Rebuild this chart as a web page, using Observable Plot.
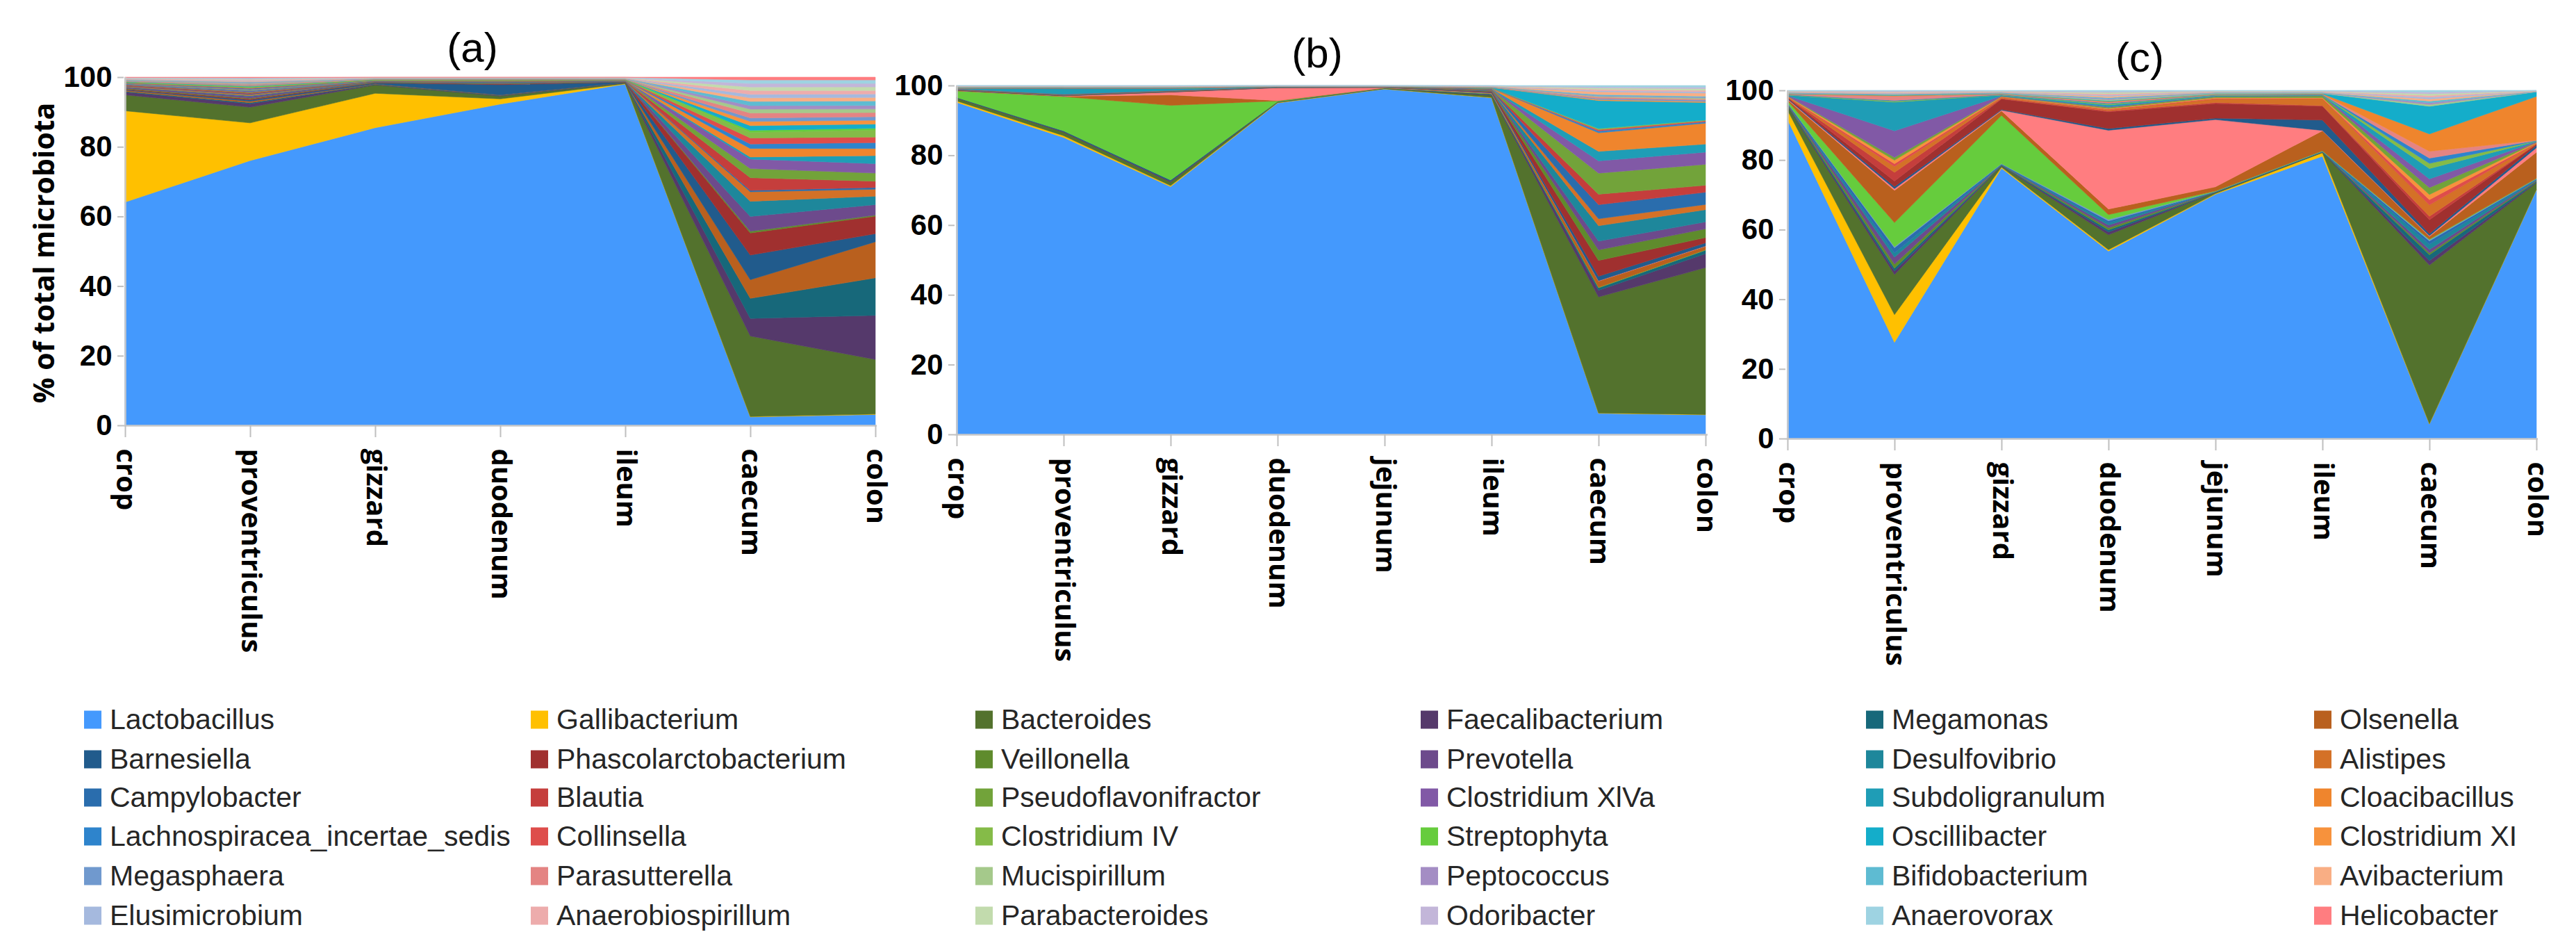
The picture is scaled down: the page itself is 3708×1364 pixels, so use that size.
<!DOCTYPE html>
<html><head><meta charset="utf-8">
<script src="https://cdn.jsdelivr.net/npm/d3@7"></script>
<script src="https://cdn.jsdelivr.net/npm/@observablehq/plot@0.6"></script>
<style>
html,body{margin:0;padding:0;background:#fff;}
#page{position:relative;width:3708px;height:1364px;overflow:hidden;background:#fff;}
.ptitle{position:absolute;font-family:"Liberation Sans",sans-serif;font-size:60px;color:#000;transform:translate(-50%,-50%);white-space:nowrap;line-height:1;}
.ylab{position:absolute;font-family:"Open Sans",sans-serif;font-weight:700;font-size:41px;color:#000;white-space:nowrap;transform:translate(-50%,-50%) rotate(-90deg);line-height:1;}
.leg{position:absolute;display:flex;align-items:center;font-family:"Liberation Sans",sans-serif;font-size:41px;color:#262626;white-space:nowrap;transform:translateY(-50%);line-height:1;}
.sw{width:25px;height:26px;margin-right:12px;flex:none;}
</style></head><body><div id="page"></div>
<script>
// ---- legend genera (legend order) and colours ----
const genera = ["Lactobacillus","Gallibacterium","Bacteroides","Faecalibacterium","Megamonas","Olsenella",
"Barnesiella","Phascolarctobacterium","Veillonella","Prevotella","Desulfovibrio","Alistipes",
"Campylobacter","Blautia","Pseudoflavonifractor","Clostridium XlVa","Subdoligranulum","Cloacibacillus",
"Lachnospiracea_incertae_sedis","Collinsella","Clostridium IV","Streptophyta","Oscillibacter","Clostridium XI",
"Megasphaera","Parasutterella","Mucispirillum","Peptococcus","Bifidobacterium","Avibacterium",
"Elusimicrobium","Anaerobiospirillum","Parabacteroides","Odoribacter","Anaerovorax","Helicobacter"];
const generaColors = ["#4499fd","#ffc000","#53722d","#55396b","#17687a","#b9601e",
"#215b8c","#a0302f","#5f8b2d","#6d4a8c","#1e879b","#d47127",
"#2a6dad","#c53e3c","#72a33a","#8159a6","#1f9db6","#ef852d",
"#2e84cc","#de4d4b","#85bb48","#66cc3d","#14adca","#f7923c",
"#7099ce","#e48483","#a5c98b","#a48dc4","#5ebbd2","#f9ae84",
"#a5b9de","#edacac","#c2dbad","#c3b6d9","#9ed3e2","#ff7d80"];

// ---- sites ----
const sitesA = ["crop","proventriculus","gizzard","duodenum","ileum","caecum","colon"];
const sitesBC = ["crop","proventriculus","gizzard","duodenum","jejunum","ileum","caecum","colon"];

// ---- panel (a): % of total microbiota, bottom-to-top stacking order ----
const panelA = [
["Lactobacillus",[64.3,75.8,85.6,92.3,98.6,2.4,3.1]],
["Gallibacterium",[26.3,10.8,9.9,1.5,0.1,0.1,0.1]],
["Bacteroides",[4.6,4.5,2.4,0.8,0.2,22.9,15.6]],
["Faecalibacterium",[0.8,1.0,0.1,0.1,0.05,5.0,12.6]],
["Megamonas",[0.2,0.3,0.1,0.1,0.05,5.7,10.7]],
["Olsenella",[0.3,0.4,0.1,0.1,0.05,5.3,10.3]],
["Barnesiella",[0.2,0.4,0.3,3.0,0.1,7.0,2.3]],
["Phascolarctobacterium",[0.2,0.3,0.1,0.2,0.05,6.3,5.0]],
["Veillonella",[0.2,0.2,0.1,0.1,0.05,0.5,0.3]],
["Prevotella",[0.3,0.5,0.1,0.1,0.05,4.2,3.0]],
["Desulfovibrio",[0.1,0.2,0.05,0.1,0.05,4.3,2.4]],
["Alistipes",[0.2,0.3,0.05,0.1,0.05,2.7,2.0]],
["Campylobacter",[0.1,0.2,0.05,0.2,0.05,0.4,0.5]],
["Blautia",[0.2,0.3,0.05,0.1,0.05,3.6,1.8]],
["Pseudoflavonifractor",[0.1,0.2,0.05,0.05,0.05,2.6,2.3]],
["Clostridium XlVa",[0.2,0.3,0.05,0.1,0.05,2.7,2.7]],
["Subdoligranulum",[0.1,0.2,0.05,0.05,0.05,0.6,2.3]],
["Cloacibacillus",[0.1,0.2,0.05,0.05,0.05,2.4,2.0]],
["Lachnospiracea_incertae_sedis",[0.1,0.3,0.05,0.1,0.05,1.3,1.7]],
["Collinsella",[0.1,0.2,0.05,0.05,0.05,1.7,1.6]],
["Clostridium IV",[0.1,0.2,0.05,0.05,0.05,1.6,2.0]],
["Streptophyta",[0.1,0.1,0.1,0.1,0.05,0.6,0.5]],
["Oscillibacter",[0.1,0.2,0.05,0.05,0.05,1.3,1.2]],
["Clostridium XI",[0.1,0.2,0.05,0.05,0.05,1.2,1.1]],
["Megasphaera",[0.1,0.2,0.05,0.05,0.05,1.0,1.0]],
["Parasutterella",[0.1,0.2,0.05,0.05,0.05,1.4,1.2]],
["Mucispirillum",[0.1,0.2,0.05,0.05,0.05,1.1,1.0]],
["Peptococcus",[0.1,0.2,0.05,0.05,0.05,1.0,1.0]],
["Bifidobacterium",[0.1,0.2,0.05,0.05,0.05,1.2,1.3]],
["Avibacterium",[0.1,0.2,0.05,0.05,0.05,1.0,1.0]],
["Elusimicrobium",[0.1,0.2,0.05,0.05,0.05,1.0,1.0]],
["Anaerobiospirillum",[0.1,0.2,0.05,0.05,0.05,1.1,1.0]],
["Parabacteroides",[0.1,0.2,0.05,0.05,0.05,1.0,1.0]],
["Odoribacter",[0.1,0.2,0.05,0.05,0.05,1.0,1.0]],
["Anaerovorax",[0.1,0.2,0.05,0.05,0.05,1.0,1.0]],
["Helicobacter",[0.1,0.2,0.05,0.05,0.05,0.8,0.8]]
];

// ---- panel (b) ----
const panelB = [
["Lactobacillus",[95.8,85.7,71.0,95.8,99.3,97.2,6.0,5.6]],
["Gallibacterium",[0.4,0.5,0.3,0.1,0.05,0.1,0.1,0.1]],
["Bacteroides",[0.8,1.0,1.0,0.2,0.1,0.6,33.1,42.1]],
["Faecalibacterium",[0.1,0.2,0.3,0.05,0.05,0.2,1.9,4.0]],
["Megamonas",[0.1,0.2,0.3,0.05,0.05,0.2,0.7,1.0]],
["Streptophyta",[1.9,9.9,21.4,0.2,0.05,0.1,0.1,0.1]],
["Olsenella",[0.05,0.1,3.0,0.1,0.05,0.1,1.8,1.0]],
["Helicobacter",[0.05,0.1,0.8,3.7,0.1,0.1,0.1,0.1]],
["Barnesiella",[0.05,0.05,0.05,0.05,0.02,0.2,1.3,0.9]],
["Phascolarctobacterium",[0.05,0.05,0.05,0.05,0.02,0.2,4.5,1.5]],
["Veillonella",[0.05,0.05,0.05,0.02,0.02,0.1,3.0,2.5]],
["Prevotella",[0.05,0.05,0.05,0.02,0.02,0.1,2.5,2.0]],
["Desulfovibrio",[0.05,0.05,0.05,0.02,0.02,0.1,4.4,3.5]],
["Alistipes",[0.05,0.05,0.05,0.02,0.02,0.1,2.0,1.5]],
["Campylobacter",[0.05,0.05,0.05,0.02,0.02,0.1,4.0,3.5]],
["Blautia",[0.05,0.05,0.05,0.02,0.02,0.1,3.0,2.0]],
["Pseudoflavonifractor",[0.05,0.05,0.05,0.02,0.02,0.1,6.0,6.0]],
["Clostridium XlVa",[0.05,0.05,0.05,0.02,0.02,0.1,3.5,3.5]],
["Subdoligranulum",[0.1,1.6,0.5,0.05,0.02,0.1,2.7,2.3]],
["Cloacibacillus",[0.05,0.05,0.05,0.02,0.02,0.05,5.3,6.0]],
["Lachnospiracea_incertae_sedis",[0.05,0.05,0.05,0.02,0.02,0.05,0.5,0.4]],
["Collinsella",[0.05,0.05,0.05,0.02,0.02,0.05,0.4,0.3]],
["Clostridium IV",[0.05,0.05,0.05,0.02,0.02,0.05,0.3,0.2]],
["Oscillibacter",[0.05,0.1,0.1,0.02,0.02,0.05,8.0,5.0]],
["Clostridium XI",[0.05,0.05,0.05,0.02,0.02,0.05,0.3,0.3]],
["Megasphaera",[0.05,0.05,0.05,0.02,0.02,0.05,0.3,0.4]],
["Parasutterella",[0.05,0.05,0.05,0.02,0.02,0.05,0.4,0.3]],
["Mucispirillum",[0.05,0.05,0.05,0.02,0.02,0.05,0.2,0.3]],
["Peptococcus",[0.05,0.05,0.05,0.02,0.02,0.05,0.2,0.2]],
["Bifidobacterium",[0.05,0.05,0.05,0.02,0.02,0.05,0.3,0.3]],
["Avibacterium",[0.05,0.05,0.05,0.02,0.02,0.05,0.8,0.9]],
["Elusimicrobium",[0.05,0.05,0.05,0.02,0.02,0.05,0.3,0.4]],
["Anaerobiospirillum",[0.05,0.05,0.05,0.02,0.02,0.05,0.4,0.4]],
["Parabacteroides",[0.05,0.05,0.05,0.02,0.02,0.05,0.4,0.5]],
["Odoribacter",[0.05,0.05,0.05,0.02,0.02,0.05,0.3,0.4]],
["Anaerovorax",[0.05,0.05,0.05,0.02,0.02,0.05,0.4,0.5]]
];

// ---- panel (c) ----
const panelC = [
["Lactobacillus",[92.0,27.8,77.7,54.0,70.1,81.7,4.2,71.7]],
["Gallibacterium",[2.7,8.0,0.3,0.4,0.2,1.0,0.1,0.1]],
["Bacteroides",[1.0,11.6,0.3,4.3,0.3,0.1,45.8,1.9]],
["Faecalibacterium",[0.2,1.0,0.1,0.8,0.05,0.05,1.3,0.2]],
["Megamonas",[0.2,0.8,0.1,0.6,0.05,0.05,1.7,0.2]],
["Veillonella",[0.2,1.2,0.1,0.6,0.05,0.05,0.5,0.2]],
["Prevotella",[0.2,2.0,0.1,0.8,0.05,0.05,1.0,0.2]],
["Desulfovibrio",[0.1,1.2,0.1,0.6,0.05,0.05,1.5,0.2]],
["Campylobacter",[0.1,1.5,0.1,0.6,0.05,0.05,1.0,0.1]],
["Megasphaera",[0.1,0.3,0.1,0.4,0.05,0.05,0.3,0.1]],
["Streptophyta",[0.6,7.0,13.9,1.4,0.1,0.1,0.2,0.1]],
["Olsenella",[0.3,9.3,1.3,1.6,1.2,5.8,0.8,7.5]],
["Helicobacter",[0.2,0.5,0.2,22.7,19.3,0.1,0.2,1.3]],
["Barnesiella",[0.2,0.6,0.2,0.5,0.4,3.0,0.6,0.7]],
["Phascolarctobacterium",[0.2,1.6,3.0,4.8,4.2,4.0,4.0,0.3]],
["Blautia",[0.1,2.5,0.2,0.3,0.3,0.2,1.0,0.1]],
["Alistipes",[0.1,1.7,0.3,0.3,1.0,2.0,3.3,0.2]],
["Collinsella",[0.1,0.8,0.1,0.2,0.2,0.1,1.5,0.1]],
["Clostridium XI",[0.1,1.0,0.1,0.2,0.2,0.2,1.5,0.1]],
["Pseudoflavonifractor",[0.1,0.8,0.1,0.3,0.3,0.5,2.0,0.1]],
["Clostridium XlVa",[0.1,7.7,0.1,0.2,0.1,0.1,2.5,0.2]],
["Subdoligranulum",[0.1,8.3,0.2,0.5,0.2,0.1,3.0,0.1]],
["Clostridium IV",[0.1,0.3,0.1,0.3,0.1,0.1,1.5,0.1]],
["Lachnospiracea_incertae_sedis",[0.1,0.2,0.1,0.2,0.1,0.1,1.5,0.1]],
["Parasutterella",[0.1,1.2,0.1,0.3,0.1,0.1,2.0,0.1]],
["Cloacibacillus",[0.1,0.2,0.1,0.2,0.1,0.1,5.0,12.6]],
["Oscillibacter",[0.1,0.2,0.1,0.2,0.1,0.1,8.0,1.3]],
["Mucispirillum",[0.1,0.1,0.1,0.3,0.2,0.1,0.5,0.05]],
["Peptococcus",[0.1,0.1,0.1,0.3,0.1,0.1,0.5,0.05]],
["Bifidobacterium",[0.1,0.1,0.1,0.3,0.1,0.1,0.5,0.05]],
["Avibacterium",[0.1,0.1,0.1,0.4,0.1,0.1,0.6,0.05]],
["Elusimicrobium",[0.1,0.1,0.1,0.3,0.1,0.1,0.5,0.05]],
["Anaerobiospirillum",[0.1,0.3,0.1,0.4,0.1,0.1,0.5,0.05]],
["Parabacteroides",[0.1,0.1,0.1,0.4,0.1,0.1,0.5,0.05]],
["Odoribacter",[0.1,0.3,0.1,0.3,0.1,0.1,0.5,0.05]],
["Anaerovorax",[0.1,0.1,0.1,0.3,0.1,0.1,0.5,0.05]]
];

const panelTitles = ["(a)","(b)","(c)"];
const yTitle = "% of total microbiota";
const yTicks = [0,20,40,60,80,100];

// ---- layout (page pixels) ----
const page = document.getElementById("page");
const geoms = [
  {left:178, right:1262, top:111, bottom:612, tx:680, ty:69},
  {left:1374, right:2458, top:123, bottom:625, tx:1896, ty:77},
  {left:2570, right:3653, top:130, bottom:631, tx:3080, ty:83}
];

function rowsOf(sites, layers){
  const rows = [];
  for (const [genus, vals] of layers) sites.forEach((s,i)=>rows.push({site:s, genus, value:vals[i]}));
  return rows;
}

function drawPanel(sites, layers, g){
  const mL=120, mR=30, mT=20, mB=400;
  const W = g.right-g.left, H = g.bottom-g.top;
  const rows = rowsOf(sites, layers);
  const svg = Plot.plot({
    width: W+mL+mR, height: H+mT+mB,
    marginLeft:mL, marginRight:mR, marginTop:mT, marginBottom:mB,
    style:{background:"transparent", overflow:"visible"},
    x:{type:"point", domain:sites, padding:0, label:null},
    y:{domain:[0,1], label:null},
    color:{domain:genera, range:generaColors},
    marks:[
      Plot.areaY(rows, {x:"site", y:"value", z:"genus", fill:"genus", stroke:"genus", strokeWidth:0.6, offset:"normalize"}),
      Plot.ruleY([0], {stroke:"#c8c8c8", strokeWidth:2.5}),
      Plot.ruleX([sites[0]], {stroke:"#c8c8c8", strokeWidth:2.5}),
      Plot.axisY({ticks:yTicks.map(d=>d/100), tickFormat:d=>String(Math.round(d*100)), tickSize:9, tickPadding:8,
        stroke:"#bfbfbf", strokeWidth:2, fill:"#000", fontFamily:"Liberation Sans, sans-serif", fontWeight:"bold", fontSize:42}),
      Plot.axisX({tickSize:17, tickPadding:16, tickRotate:90, stroke:"#bfbfbf", strokeWidth:2, fill:"#000",
        fontFamily:"Open Sans, sans-serif", fontWeight:"bold", fontSize:40})
    ]
  });
  svg.style.position="absolute";
  svg.style.left=(g.left-mL)+"px";
  svg.style.top=(g.top-mT)+"px";
  page.appendChild(svg);
}

drawPanel(sitesA, panelA, geoms[0]);
drawPanel(sitesBC, panelB, geoms[1]);
drawPanel(sitesBC, panelC, geoms[2]);

panelTitles.forEach((t,i)=>{
  const d=document.createElement("div"); d.className="ptitle"; d.textContent=t;
  d.style.left=geoms[i].tx+"px"; d.style.top=geoms[i].ty+"px"; page.appendChild(d);
});
const yl=document.createElement("div"); yl.className="ylab"; yl.textContent=yTitle;
yl.style.left="62px"; yl.style.top="364px"; page.appendChild(yl);

// ---- legend: 6 columns x 6 rows, row-major order ----
const legCols=[121,764,1404,2045,2686,3331];
const legRows=[1035,1092,1147,1203,1260,1317];
genera.forEach((name,i)=>{
  const r=Math.floor(i/6), c=i%6;
  const d=document.createElement("div"); d.className="leg";
  d.style.left=legCols[c]+"px"; d.style.top=legRows[r]+"px";
  const sw=document.createElement("span"); sw.className="sw"; sw.style.background=generaColors[i];
  const tx=document.createElement("span"); tx.textContent=name;
  d.appendChild(sw); d.appendChild(tx); page.appendChild(d);
});
</script></body></html>
